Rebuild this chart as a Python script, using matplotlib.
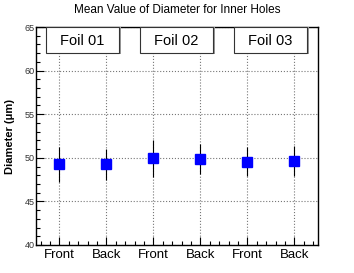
import numpy as np
import matplotlib.pyplot as plt
from matplotlib.patches import Rectangle
from matplotlib.ticker import MultipleLocator, FixedLocator

plt.rcParams['font.family'] = ['Liberation Sans', 'DejaVu Sans']

# data
labels = ['Front', 'Back', 'Front', 'Back', 'Front', 'Back']
means = [49.25, 49.25, 49.95, 49.85, 49.55, 49.65]
errors = [2.0, 1.75, 2.1, 1.7, 1.65, 1.7]
foils = ['Foil 01', 'Foil 02', 'Foil 03']

x = np.arange(len(means)) + 0.5

fig = plt.figure(figsize=(3.54, 2.73), dpi=100)
ax = fig.add_axes([0.1017, 0.1026, 0.7963, 0.7984])

ax.errorbar(x, means, yerr=errors, fmt='s', color='#0000ff', ecolor='black',
            elinewidth=0.8, capsize=0, markersize=7, zorder=3)

ax.set_xlim(0, 6)
ax.set_ylim(40, 65)
ax.xaxis.set_major_locator(FixedLocator(x))
ax.xaxis.set_minor_locator(FixedLocator(np.arange(0.1, 6, 0.2)))
ax.set_xticklabels(labels, fontsize=9.5)
ax.yaxis.set_major_locator(MultipleLocator(5))
ax.yaxis.set_minor_locator(MultipleLocator(1))
ax.tick_params(axis='y', labelsize=6.5, labelcolor='#333333', pad=1)
ax.tick_params(which='both', direction='in', top=False, right=False)
ax.tick_params(which='major', length=6, width=0.8)
ax.tick_params(which='minor', length=3, width=0.8)
ax.tick_params(axis='x', pad=3)
ax.grid(True, which='major', linestyle=':', color='#777777', linewidth=0.8)
for s in ax.spines.values():
    s.set_linewidth(1.0)

# foil label boxes
for i, name in enumerate(foils):
    x0 = 2 * i + 0.21
    w = 1.55
    shadow = Rectangle((x0 + 0.05, 61.9), w, 3.1, facecolor='#999999',
                       edgecolor='none', zorder=4, clip_on=False)
    box = Rectangle((x0, 62.0), w, 3.0, facecolor='white', edgecolor='#333333',
                    linewidth=0.8, zorder=5, clip_on=False)
    ax.add_patch(shadow)
    ax.add_patch(box)
    ax.text(x0 + w / 2, 63.4, name, ha='center', va='center', fontsize=10.5, zorder=6)

ax.set_ylabel('Diameter (\u03bcm)', fontsize=8, fontweight='bold', labelpad=7)
fig.text(0.5, 0.963, 'Mean Value of Diameter for Inner Holes', ha='center',
         va='center', fontsize=8.5)

fig.savefig('out.png', dpi=100)
